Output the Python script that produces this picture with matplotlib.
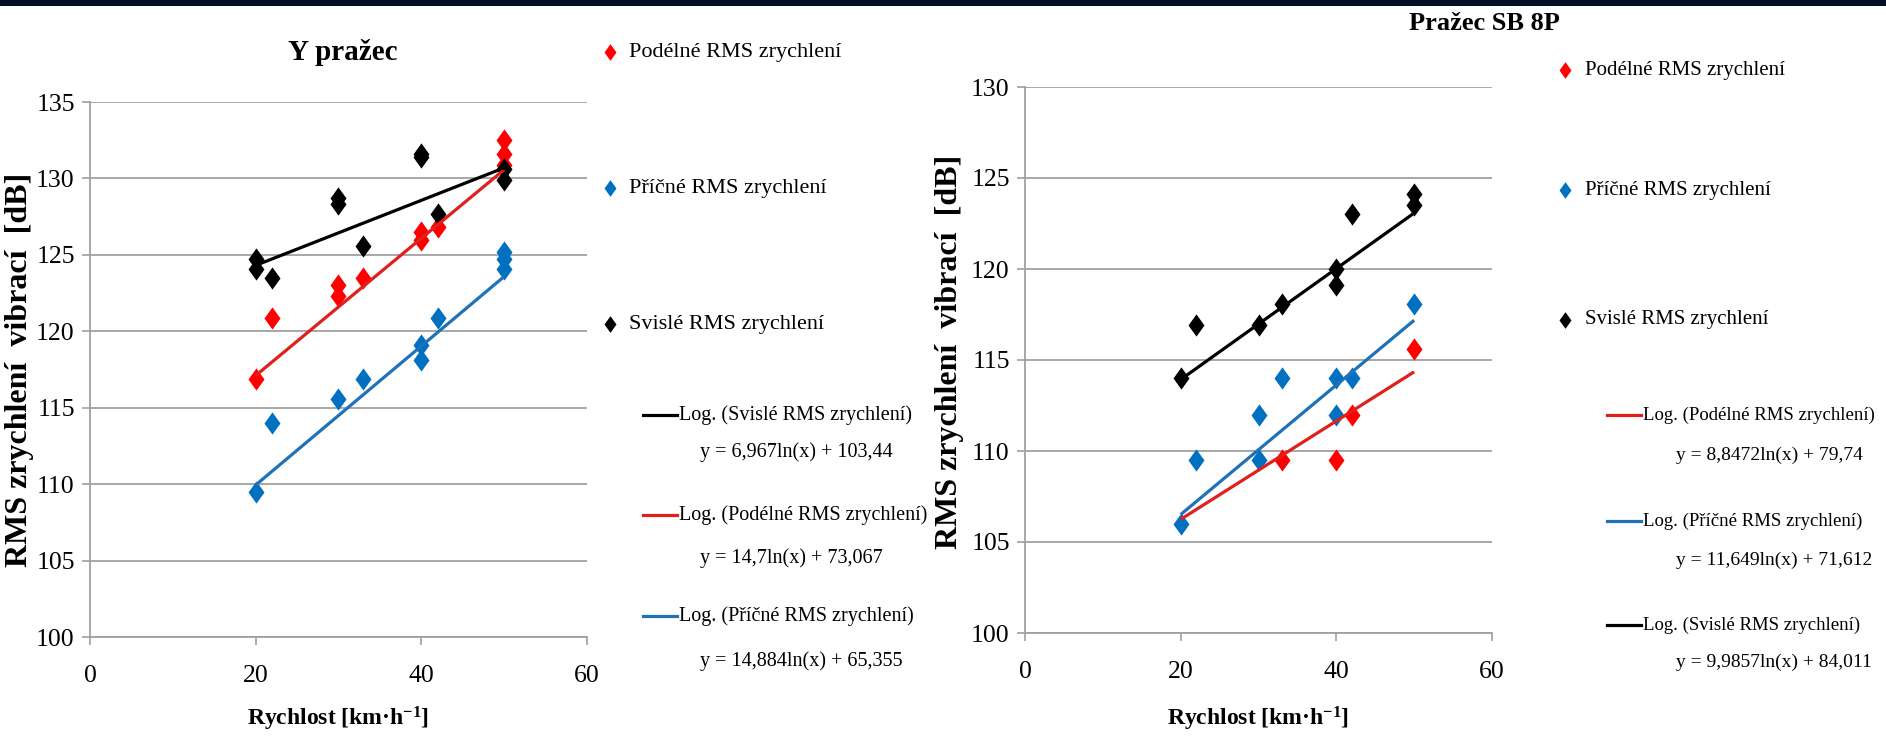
import numpy as np
import matplotlib
matplotlib.use("Agg")
import matplotlib.pyplot as plt
from matplotlib.lines import Line2D
from matplotlib.patches import Rectangle

plt.rcParams['font.family'] = ['Liberation Serif', 'DejaVu Serif']
plt.rcParams['mathtext.fontset'] = 'custom'
plt.rcParams['mathtext.rm'] = 'Liberation Serif'
plt.rcParams['mathtext.bf'] = 'Liberation Serif:bold'
plt.rcParams['mathtext.default'] = 'regular'

# ---------------- data: Y pražec ----------------
y_podelne_x = [20, 22, 30, 30, 33, 40, 40, 42, 50, 50, 50]
y_podelne_v = [116.9, 120.9, 123.0, 122.3, 123.5, 126.5, 126.0, 126.8, 132.5, 131.6, 130.9]
y_pricne_x = [20, 22, 30, 33, 40, 40, 42, 50, 50, 50]
y_pricne_v = [109.5, 114.0, 115.6, 116.9, 119.1, 118.1, 120.9, 125.2, 124.7, 124.1]
y_svisle_x = [20, 20, 22, 30, 30, 33, 40, 40, 42, 50, 50]
y_svisle_v = [124.7, 124.1, 123.5, 128.7, 128.3, 125.6, 131.6, 131.4, 127.7, 130.6, 129.9]
# logarithmic trend coefficients (a*ln(x) + b)
y_trend_podelne = (14.7, 73.067)
y_trend_pricne = (14.884, 65.355)
y_trend_svisle = (6.967, 103.44)

# ---------------- data: Pražec SB 8P ----------------
sb_podelne_x = [33, 40, 42, 50]
sb_podelne_v = [109.5, 109.5, 112.0, 115.6]
sb_pricne_x = [20, 22, 30, 30, 33, 40, 40, 42, 50]
sb_pricne_v = [106.0, 109.5, 112.0, 109.5, 114.0, 114.0, 112.0, 114.0, 118.1]
sb_svisle_x = [20, 22, 30, 33, 40, 40, 42, 50, 50]
sb_svisle_v = [114.0, 116.9, 116.9, 118.1, 120.0, 119.1, 123.0, 124.1, 123.5]
sb_trend_podelne = (8.8472, 79.74)
sb_trend_pricne = (11.649, 71.612)
sb_trend_svisle = (9.9857, 84.011)

trend_range = [20, 50]
x_ticks = [0, 20, 40, 60]
y_ticks_left = [100, 105, 110, 115, 120, 125, 130, 135]
y_ticks_right = [100, 105, 110, 115, 120, 125, 130]

RED_PT, RED_LN = '#ff0000', '#e0201c'
BLUE_PT, BLUE_LN = '#0070c0', '#1f72b8'
BLACK = '#000000'
GRID = '#a0a0a0'
DIAMOND = [(0, 1), (0.72, 0), (0, -1), (-0.72, 0), (0, 1)]

W, H = 1886, 736
fig = plt.figure(figsize=(W / 100, H / 100), dpi=100, facecolor='white')


def fx(px):
    return px / W


def fy(py):
    return 1 - py / H


def fmt(v):
    return repr(v).replace('.', ',')


def eq_text(coef):
    a, b = coef
    return f"y = {fmt(a)}ln(x) + {fmt(b)}"


# dark strip along the top edge
fig.patches.append(Rectangle((0, fy(6)), 1, 6 / H, transform=fig.transFigure,
                             facecolor='#061024', edgecolor='none', zorder=0))


def make_axes(box, ylim, yticks):
    x0, x1, ytop, ybot = box
    ax = fig.add_axes([fx(x0), fy(ybot), (x1 - x0) / W, (ybot - ytop) / H])
    ax.set_xlim(0, 60)
    ax.set_ylim(*ylim)
    ax.set_xticks(x_ticks)
    ax.set_yticks(yticks)
    ax.grid(axis='y', color=GRID, lw=1.3)
    ax.set_axisbelow(True)
    for s in ('top', 'right'):
        ax.spines[s].set_visible(False)
    for s in ('left', 'bottom'):
        ax.spines[s].set_color(GRID)
        ax.spines[s].set_linewidth(1.3)
    ax.tick_params(axis='both', direction='out', length=6, width=1.2,
                   color=GRID, labelsize=18.5, labelcolor='black')
    ax.tick_params(axis='y', pad=5)
    ax.tick_params(axis='x', pad=14)
    return ax


def draw_series(ax, series):
    for xs, vs, c in series:
        ax.plot(xs, vs, linestyle='none', marker=DIAMOND, markersize=16,
                markerfacecolor=c, markeredgewidth=0, color=c, zorder=3)


def draw_trends(ax, trends):
    xt = np.array(trend_range, dtype=float)
    for (a, b), c in trends:
        ax.plot(xt, a * np.log(xt) + b, color=c, lw=2.3, zorder=4,
                solid_capstyle='butt')


LEFT_BOX = (90, 587, 102, 637)
RIGHT_BOX = (1025, 1492, 87, 633)

# ---------------- left panel ----------------
ax1 = make_axes(LEFT_BOX, (100, 135), y_ticks_left)
draw_series(ax1, [(y_podelne_x, y_podelne_v, RED_PT),
                  (y_pricne_x, y_pricne_v, BLUE_PT),
                  (y_svisle_x, y_svisle_v, BLACK)])
draw_trends(ax1, [(y_trend_podelne, RED_LN), (y_trend_pricne, BLUE_LN),
                  (y_trend_svisle, BLACK)])

# ---------------- right panel ----------------
ax2 = make_axes(RIGHT_BOX, (100, 130), y_ticks_right)
draw_series(ax2, [(sb_podelne_x, sb_podelne_v, RED_PT),
                  (sb_pricne_x, sb_pricne_v, BLUE_PT),
                  (sb_svisle_x, sb_svisle_v, BLACK)])
draw_trends(ax2, [(sb_trend_podelne, RED_LN), (sb_trend_pricne, BLUE_LN),
                  (sb_trend_svisle, BLACK)])

xlabel = 'Rychlost [km·h$^{-1}$]'
ylabel = 'RMS zrychlení  vibrací  [dB]'
for ax, (ylab_x, ylab_y), box in ((ax1, (20, 370), LEFT_BOX),
                                  (ax2, (950, 352), RIGHT_BOX)):
    x0, x1, ytop, ybot = box
    ax.set_xlabel(xlabel, fontsize=17, fontweight='bold')
    ax.xaxis.set_label_coords(0.5, -(719 - ybot) / (ybot - ytop), transform=ax.transAxes)
    ax.xaxis.label.set_va('center')
    ax.set_ylabel(ylabel, fontsize=23, fontweight='bold')
    ax.yaxis.set_label_coords((ylab_x - x0) / (x1 - x0), (ybot - ylab_y) / (ybot - ytop),
                              transform=ax.transAxes)
    ax.yaxis.label.set_va('center')

fig.text(fx(343), fy(52), 'Y pražec', fontsize=21, fontweight='bold',
         ha='center', va='center')
fig.text(fx(1484), fy(24), 'Pražec SB 8P', fontsize=19, fontweight='bold',
         ha='center', va='center')


# ---------------- legends ----------------
def legend(xs, ys, sizes, point_items, trend_items):
    marker_x, text_x, line_x0, line_x1, ltext_x, eq_x = xs
    point_ys, trend_ys = ys
    fs_pt, fs_log, fs_eq = sizes
    for (label, c), y in zip(point_items, point_ys):
        fig.add_artist(Line2D([fx(marker_x)], [fy(y)], transform=fig.transFigure,
                              linestyle='none', marker=DIAMOND, markersize=12,
                              markerfacecolor=c, markeredgewidth=0))
        fig.text(fx(text_x), fy(y), label, fontsize=fs_pt, ha='left', va='center')
    for (label, coef, c), (y, ye) in zip(trend_items, trend_ys):
        fig.add_artist(Line2D([fx(line_x0), fx(line_x1)], [fy(y), fy(y)],
                              transform=fig.transFigure, color=c, lw=2.3))
        fig.text(fx(ltext_x), fy(y), label, fontsize=fs_log, ha='left', va='center')
        fig.text(fx(eq_x), fy(ye), eq_text(coef), fontsize=fs_eq, ha='left', va='center')


pod, pri, svi = 'Podélné RMS zrychlení', 'Příčné RMS zrychlení', 'Svislé RMS zrychlení'
points_legend = [(pod, RED_PT), (pri, BLUE_PT), (svi, BLACK)]

legend((610, 629, 643, 677, 679, 700),
       ((52, 188, 324), ((415, 452), (515, 558), (616, 661))),
       (16, 14.5, 14.5),
       points_legend,
       [(f'Log. ({svi})', y_trend_svisle, BLACK),
        (f'Log. ({pod})', y_trend_podelne, RED_LN),
        (f'Log. ({pri})', y_trend_pricne, BLUE_LN)])

legend((1565, 1585, 1607, 1641, 1643, 1676),
       ((70, 190, 320), ((415, 455), (521, 560), (625, 662))),
       (15, 13.5, 14),
       points_legend,
       [(f'Log. ({pod})', sb_trend_podelne, RED_LN),
        (f'Log. ({pri})', sb_trend_pricne, BLUE_LN),
        (f'Log. ({svi})', sb_trend_svisle, BLACK)])

fig.savefig('out.png', dpi=100, facecolor='white')
